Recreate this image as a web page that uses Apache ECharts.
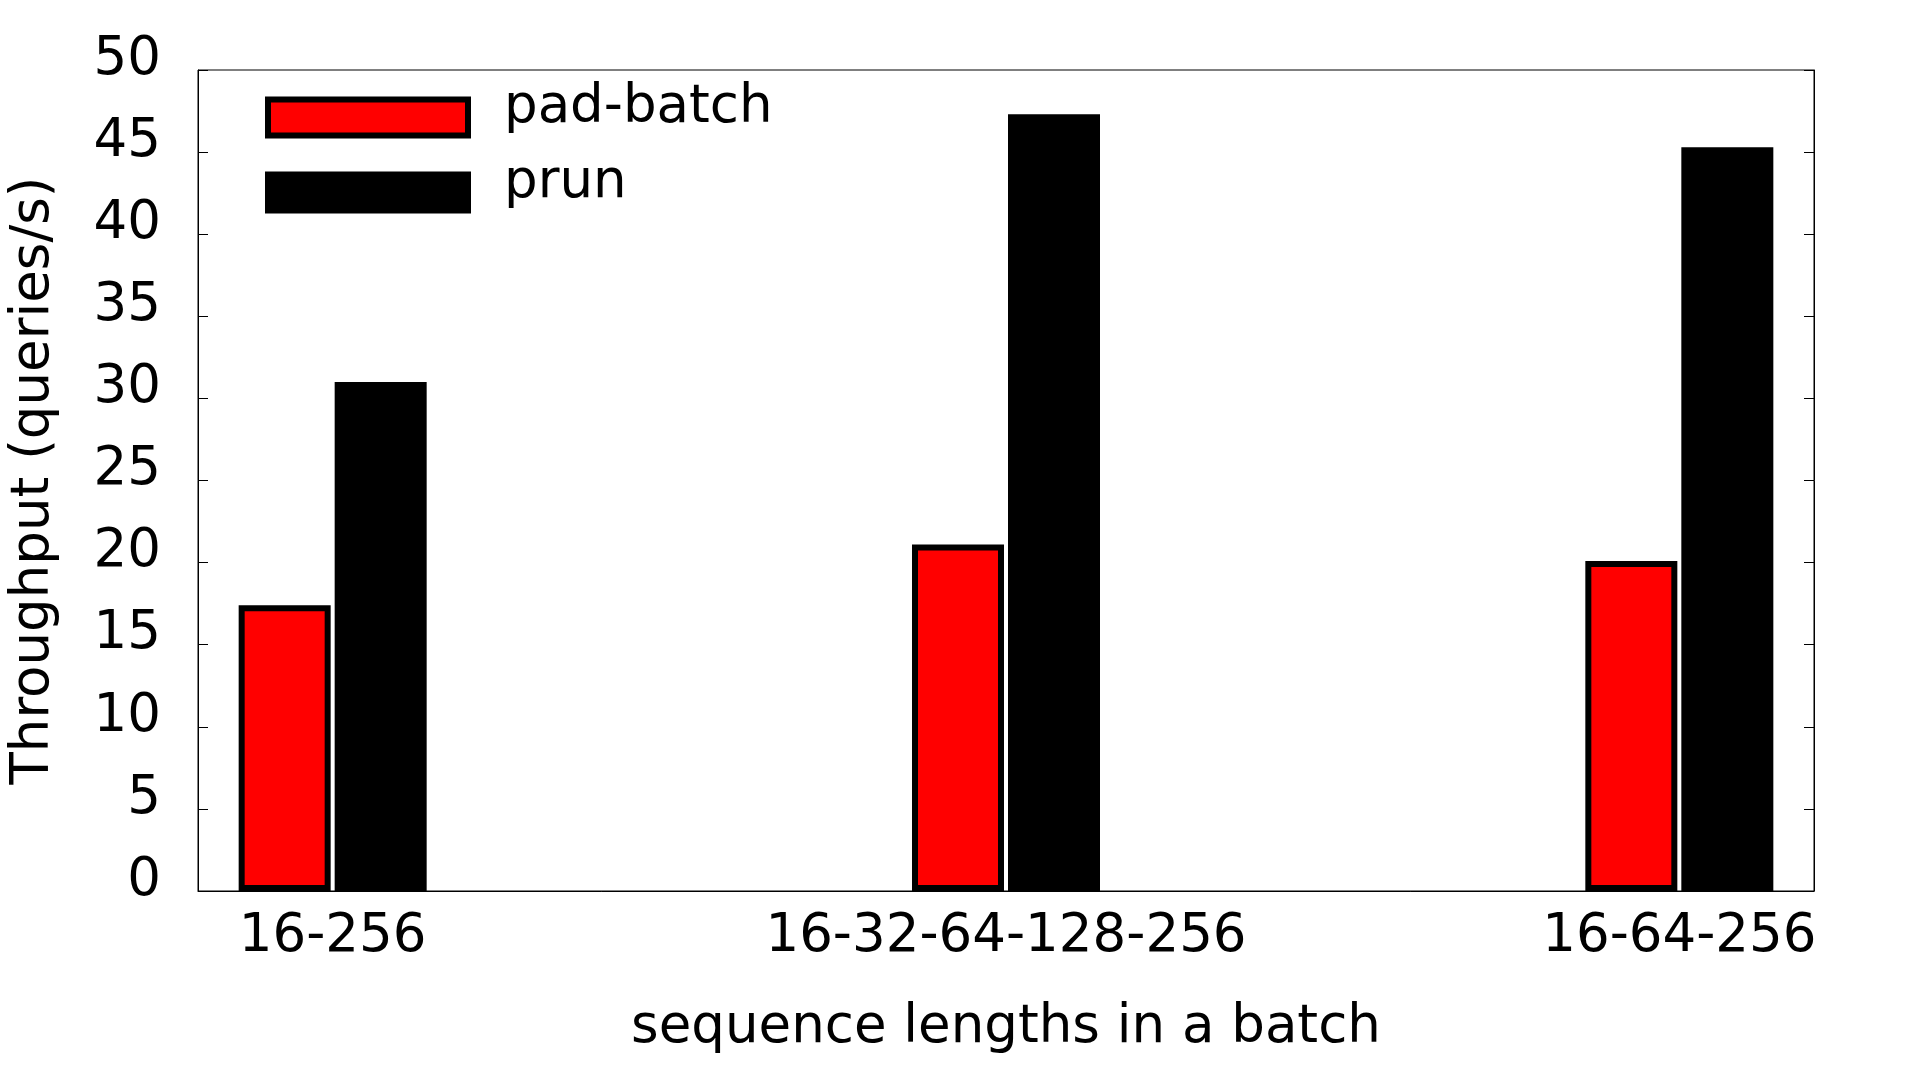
<!DOCTYPE html>
<html>
<head>
<meta charset="utf-8">
<script src="https://cdn.jsdelivr.net/npm/echarts@6/dist/echarts.min.js"></script>
<style>
html,body{margin:0;padding:0;background:#fff;}
#chart{width:1920px;height:1080px;}
</style>
</head>
<body>
<div id="chart"></div>
<script>
var categories = ['16-256', '16-32-64-128-256', '16-64-256'];
var padBatch = [17.4, 21.1, 20.1];
var prun = [31.0, 47.3, 45.3];
var yTicks = [0, 5, 10, 15, 20, 25, 30, 35, 40, 45, 50];

var FONT = 'DejaVu Sans';
var chart = echarts.init(document.getElementById('chart'), null, {renderer: 'canvas'});

function toPairs(arr) { return arr.map(function (v, i) { return [i, v]; }); }

function legendFor(name, top) {
  return {
    orient: 'vertical',
    left: 265, top: top,
    padding: 0,
    itemWidth: 200, itemHeight: 36, itemGap: 0,
    icon: 'rect',
    itemStyle: {borderWidth: 6, borderColor: '#000'},
    formatter: function (n) { return '{t|' + n + '}'; },
    textStyle: {
      fontFamily: FONT, fontSize: 53, color: '#000',
      rich: {t: {fontFamily: FONT, fontSize: 53, color: '#000', lineHeight: 53, padding: [0, 0, 18, 31]}}
    },
    data: [name]
  };
}

var option = {
  backgroundColor: '#ffffff',
  animation: false,
  textStyle: {fontFamily: FONT},
  grid: {
    left: 198, right: 106, top: 70, bottom: 189,
    outerBoundsMode: 'none',
    containLabel: false,
    show: true, borderColor: '#000', borderWidth: 1, backgroundColor: 'transparent'
  },
  legend: [legendFor('pad-batch', 82), legendFor('prun', 157)],
  xAxis: {
    type: 'value',
    min: -0.2, max: 2.2,
    name: 'sequence lengths in a batch',
    nameLocation: 'middle',
    nameGap: 111,
    nameTextStyle: {fontFamily: FONT, fontSize: 53, color: '#000', lineHeight: 53},
    axisLine: {show: true, onZero: false, lineStyle: {color: '#000', width: 1}},
    axisTick: {show: false},
    splitLine: {show: false},
    axisLabel: {
      customValues: [0, 1, 2],
      formatter: function (v) { return categories[Math.round(v)]; },
      fontFamily: FONT, fontSize: 53, color: '#000', lineHeight: 53, margin: 20
    }
  },
  yAxis: [{
    type: 'value',
    min: 0, max: 50, interval: 5,
    position: 'left',
    name: 'Throughput (queries/s)',
    nameLocation: 'middle',
    nameRotate: 90,
    nameGap: 137,
    nameTextStyle: {fontFamily: FONT, fontSize: 53, color: '#000', lineHeight: 53},
    axisLine: {show: true, onZero: false, lineStyle: {color: '#000', width: 1}},
    axisTick: {show: true, inside: true, length: 10, lineStyle: {color: '#000', width: 1}},
    splitLine: {show: false},
    axisLabel: {
      showMinLabel: true, showMaxLabel: true, hideOverlap: false,
      fontFamily: FONT, fontSize: 53, color: '#000', margin: 37,
      lineHeight: 20, verticalAlign: 'bottom',
      formatter: function (v) { return yTicks.indexOf(v) >= 0 ? String(v) : ''; }
    }
  }, {
    type: 'value',
    min: 0, max: 50, interval: 5,
    position: 'right',
    axisLine: {show: true, onZero: false, lineStyle: {color: '#000', width: 1}},
    axisTick: {show: true, inside: true, length: 10, lineStyle: {color: '#000', width: 1}},
    splitLine: {show: false},
    axisLabel: {show: false}
  }],
  series: [{
    name: 'pad-batch',
    type: 'bar',
    yAxisIndex: 0,
    barWidth: 92,
    barGap: '4.35%',
    itemStyle: {color: '#ff0000', borderColor: '#000', borderWidth: 6},
    data: toPairs(padBatch)
  }, {
    name: 'prun',
    type: 'bar',
    yAxisIndex: 0,
    barWidth: 92,
    barGap: '4.35%',
    itemStyle: {color: '#000000', borderColor: '#000', borderWidth: 6},
    data: toPairs(prun)
  }]
};
chart.setOption(option);
</script>
</body>
</html>
